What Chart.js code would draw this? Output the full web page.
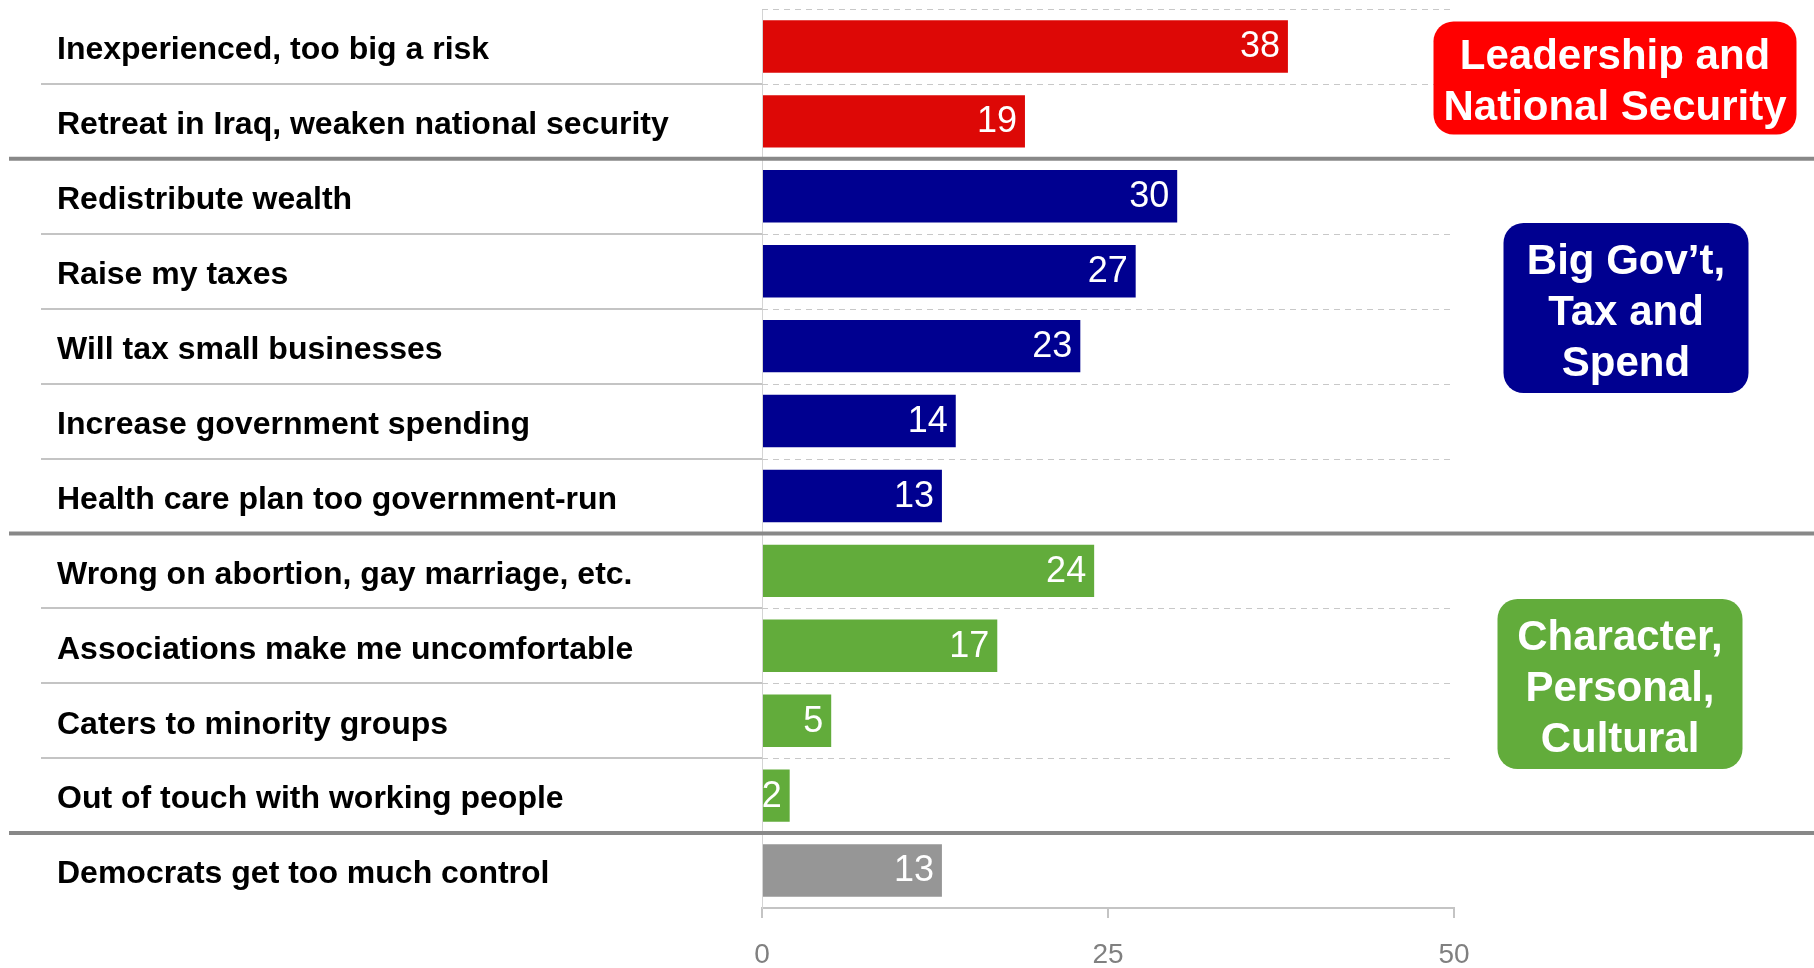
<!DOCTYPE html>
<html>
<head>
<meta charset="utf-8">
<script src="https://cdn.jsdelivr.net/npm/chart.js@4.4.0/dist/chart.umd.min.js"></script>
<style>
    html, body { margin: 0; padding: 0; background: #fff; }
    #wrap { width: 1814px; height: 968px; position: relative; }
</style>
</head>
<body>
<div id="wrap"><canvas id="chartReasons"></canvas></div>
<script>
// ========================================
// DATA
// ========================================
const categories = [
    'Inexperienced, too big a risk',
    'Retreat in Iraq, weaken national security',
    'Redistribute wealth',
    'Raise my taxes',
    'Will tax small businesses',
    'Increase government spending',
    'Health care plan too government-run',
    'Wrong on abortion, gay marriage, etc.',
    'Associations make me uncomfortable',
    'Caters to minority groups',
    'Out of touch with working people',
    'Democrats get too much control'
];
const values = [38, 19, 30, 27, 23, 14, 13, 24, 17, 5, 2, 13];
const rowGroup = [0, 0, 1, 1, 1, 1, 1, 2, 2, 2, 2, 3];
const groupNames = [
    ['Leadership and', 'National Security'],
    ['Big Gov\u2019t,', 'Tax and', 'Spend'],
    ['Character,', 'Personal,', 'Cultural']
];
const xTicks = [0, 25, 50];

// Styles
const barColors = ['#DD0806', '#000090', '#62AC3B', '#969696'];
const boxColors = ['#FF0000', '#000090', '#62AC3B'];
const boxes = [
    { cx: 1615, cy: 78, w: 363, h: 113 },
    { cx: 1626, cy: 308, w: 245, h: 170 },
    { cx: 1620, cy: 684, w: 245, h: 170 }
];
const FONT = "'Liberation Sans', Arial, sans-serif";

// --- plugin: row lines, value labels, group boxes ---
const rowsPlugin = {
    id: 'rows',
    beforeDatasetsDraw(chart) {
        const { ctx, chartArea, scales: { y } } = chart;
        ctx.save();
        for (let i = 0; i < categories.length; i++) {
            const yy = i === 0 ? chartArea.top
                : (y.getPixelForValue(i - 1) + y.getPixelForValue(i)) / 2;
            if (i > 0 && rowGroup[i - 1] !== rowGroup[i]) continue;
            ctx.setLineDash([6, 5]);
            ctx.strokeStyle = '#C8C8C8';
            ctx.lineWidth = 1;
            ctx.beginPath();
            ctx.moveTo(chartArea.left, Math.round(yy) + 0.5);
            ctx.lineTo(chartArea.right, Math.round(yy) + 0.5);
            ctx.stroke();
            if (i > 0) {
                ctx.setLineDash([]);
                ctx.strokeStyle = '#C4C4C4';
                ctx.lineWidth = 2;
                ctx.beginPath();
                ctx.moveTo(41, Math.round(yy));
                ctx.lineTo(chartArea.left, Math.round(yy));
                ctx.stroke();
            }
        }
        ctx.restore();
    },
    afterDatasetsDraw(chart) {
        const { ctx, scales: { y } } = chart;
        ctx.save();

        // thick lines between groups
        ctx.strokeStyle = '#888888';
        ctx.lineWidth = 4;
        for (let i = 1; i < categories.length; i++) {
            if (rowGroup[i - 1] === rowGroup[i]) continue;
            const yy = (y.getPixelForValue(i - 1) + y.getPixelForValue(i)) / 2;
            ctx.beginPath();
            ctx.moveTo(9, yy);
            ctx.lineTo(1814, yy);
            ctx.stroke();
        }

        // values inside bars
        const meta = chart.getDatasetMeta(0);
        ctx.fillStyle = '#FFFFFF';
        ctx.font = '36px ' + FONT;
        ctx.textAlign = 'right';
        ctx.textBaseline = 'middle';
        meta.data.forEach((bar, i) => {
            ctx.fillText(String(values[i]), bar.x - 8, bar.y + 1);
        });

        // group boxes
        groupNames.forEach((lines, g) => {
            const b = boxes[g];
            ctx.fillStyle = boxColors[g];
            ctx.beginPath();
            ctx.roundRect(b.cx - b.w / 2, b.cy - b.h / 2, b.w, b.h, 20);
            ctx.fill();
            ctx.fillStyle = '#FFFFFF';
            ctx.font = 'bold 42px ' + FONT;
            ctx.textAlign = 'center';
            ctx.textBaseline = 'middle';
            const lh = 51;
            lines.forEach((t, k) => {
                ctx.fillText(t, b.cx, b.cy + (k - (lines.length - 1) / 2) * lh + 5);
            });
        });
        ctx.restore();
    }
};

function drawChart() {
    const ctx = document.getElementById('chartReasons');
    new Chart(ctx.getContext('2d'), {
        type: 'bar',
        data: {
            labels: categories,
            datasets: [{
                data: values,
                backgroundColor: rowGroup.map(g => barColors[g]),
                borderWidth: 0,
                categoryPercentage: 1,
                barPercentage: 0.7
            }]
        },
        options: {
            indexAxis: 'y',
            responsive: true,
            maintainAspectRatio: false,
            animation: false,
            layout: { padding: { top: 9, left: 57, right: 360, bottom: 0 } },
            plugins: { legend: { display: false }, tooltip: { enabled: false } },
            scales: {
                x: {
                    min: 0,
                    max: 50,
                    afterBuildTicks: s => { s.ticks = xTicks.map(v => ({ value: v })); },
                    afterFit: s => { s.height = 60; },
                    grid: { drawOnChartArea: false, drawTicks: true, tickLength: 10, color: '#C4C4C4', lineWidth: 2 },
                    border: { display: true, color: '#C4C4C4', width: 2 },
                    ticks: { color: '#808080', padding: 20, font: { family: FONT, size: 28 } }
                },
                y: {
                    afterFit: s => { s.width = 762 - 57; s.paddingTop = 0; s.paddingBottom = 0; },
                    grid: { display: false },
                    border: { display: true, color: '#D4D4D4', width: 1 },
                    ticks: {
                        crossAlign: 'far',
                        labelOffset: 4,
                        color: '#000000',
                        font: { family: FONT, size: 32, weight: 'bold' }
                    }
                }
            }
        },
        plugins: [rowsPlugin]
    });
}

document.addEventListener('DOMContentLoaded', drawChart);
</script>
</body>
</html>
